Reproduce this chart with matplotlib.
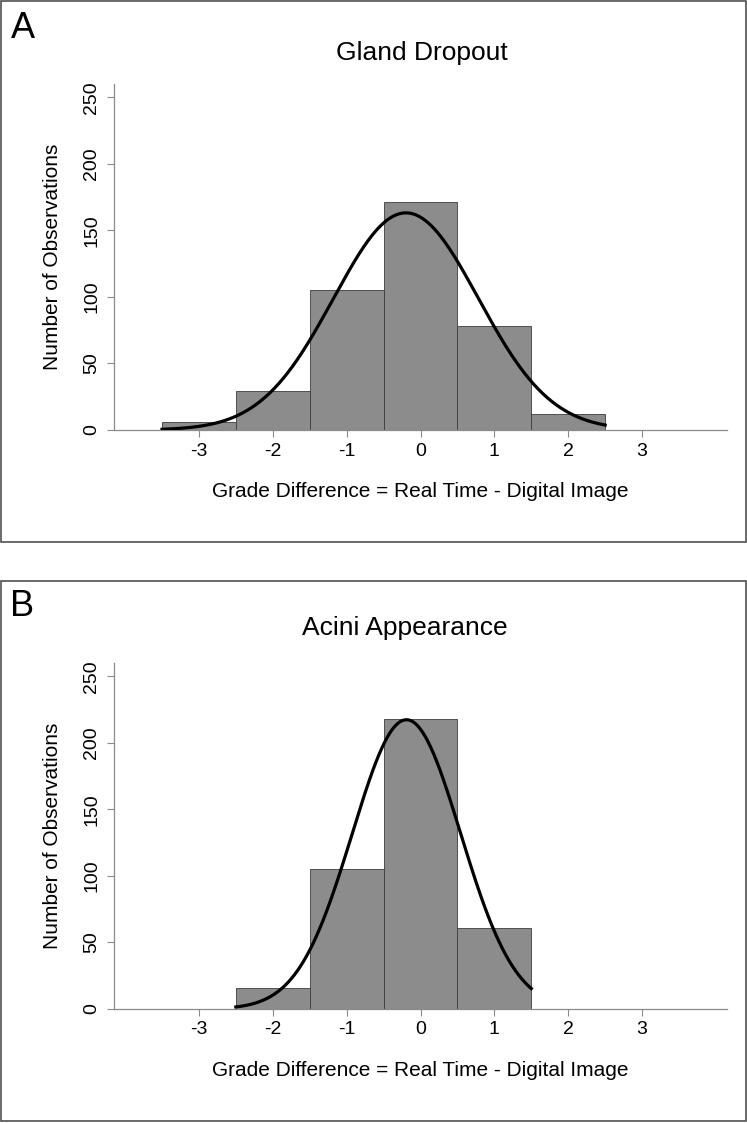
import numpy as np
import matplotlib
matplotlib.use("Agg")
import matplotlib.pyplot as plt
from matplotlib.patches import Rectangle

plt.rcParams['font.family'] = ['Liberation Sans', 'DejaVu Sans']

# histogram data: grade difference bins (centres) and counts
bins_a = [-3, -2, -1, 0, 1, 2]
counts_a = [6, 29, 105, 171, 78, 12]
bins_b = [-2, -1, 0, 1]
counts_b = [16, 105, 218, 61]

panels = [
    ("A", "Gland Dropout", bins_a, counts_a),
    ("B", "Acini Appearance", bins_b, counts_b),
]
xticks = [-3, -2, -1, 0, 1, 2, 3]
yticks = [0, 50, 100, 150, 200, 250]

W, H = 747, 1123
fig = plt.figure(figsize=(W / 100, H / 100), dpi=100)


def fx(px):
    return px / W


def fy(py):
    return 1 - py / H


# pixel layout per panel: box top/bottom, axes top/bottom, title centre
layout = [
    dict(box=(1, 542), ax=(84, 430), title=(422, 53), letter=(11, 28)),
    dict(box=(581, 1121), ax=(663, 1009), title=(405, 628), letter=(10, 607)),
]

for (letter, title, bins, counts), lay in zip(panels, layout):
    # panel frame
    b0, b1 = lay["box"]
    fig.patches.append(Rectangle((fx(1), fy(b1)), fx(745), (b1 - b0) / H,
                                 transform=fig.transFigure, fill=False,
                                 edgecolor="#505050", linewidth=1.2))
    fig.text(fx(lay["letter"][0]), fy(lay["letter"][1]), letter, fontsize=26,
             ha="left", va="center")
    fig.text(fx(lay["title"][0]), fy(lay["title"][1]), title, fontsize=19,
             ha="center", va="center")

    t, b = lay["ax"]
    ax = fig.add_axes([fx(114), fy(b), fx(727 - 114), (b - t) / H])
    bins = np.array(bins, dtype=float)
    counts = np.array(counts, dtype=float)
    ax.bar(bins, counts, width=1.0, color="#8c8c8c", edgecolor="#3c3c3c",
           linewidth=0.6, zorder=2)

    # normal curve fitted to the grouped data
    n = counts.sum()
    mu = (bins * counts).sum() / n
    sd = np.sqrt((counts * (bins - mu) ** 2).sum() / n)
    xs = np.linspace(bins[0] - 0.5, bins[-1] + 0.5, 300)
    ys = n / (sd * np.sqrt(2 * np.pi)) * np.exp(-0.5 * ((xs - mu) / sd) ** 2)
    ax.plot(xs, ys, color="black", linewidth=2.3, zorder=3)

    ax.set_xlim(-4.15, 4.15)
    ax.set_ylim(0, 260)
    ax.set_xticks(xticks)
    ax.set_xticklabels([str(v) for v in xticks])
    ax.set_yticks(yticks)
    ax.set_yticklabels([str(v) for v in yticks], rotation=90, va="center")
    for s in ["top", "right"]:
        ax.spines[s].set_visible(False)
    for s in ["left", "bottom"]:
        ax.spines[s].set_color("#8a8a8a")
        ax.spines[s].set_linewidth(0.9)
    ax.tick_params(axis="both", colors="#8a8a8a", labelcolor="black",
                   length=5, width=0.8, labelsize=14)
    ax.tick_params(axis="x", pad=4)
    ax.tick_params(axis="y", pad=5)
    ax.set_xlabel("Grade Difference = Real Time - Digital Image", fontsize=15,
                  labelpad=16)
    ax.set_ylabel("Number of Observations", fontsize=15, labelpad=15)

fig.savefig("out.png", dpi=100)
